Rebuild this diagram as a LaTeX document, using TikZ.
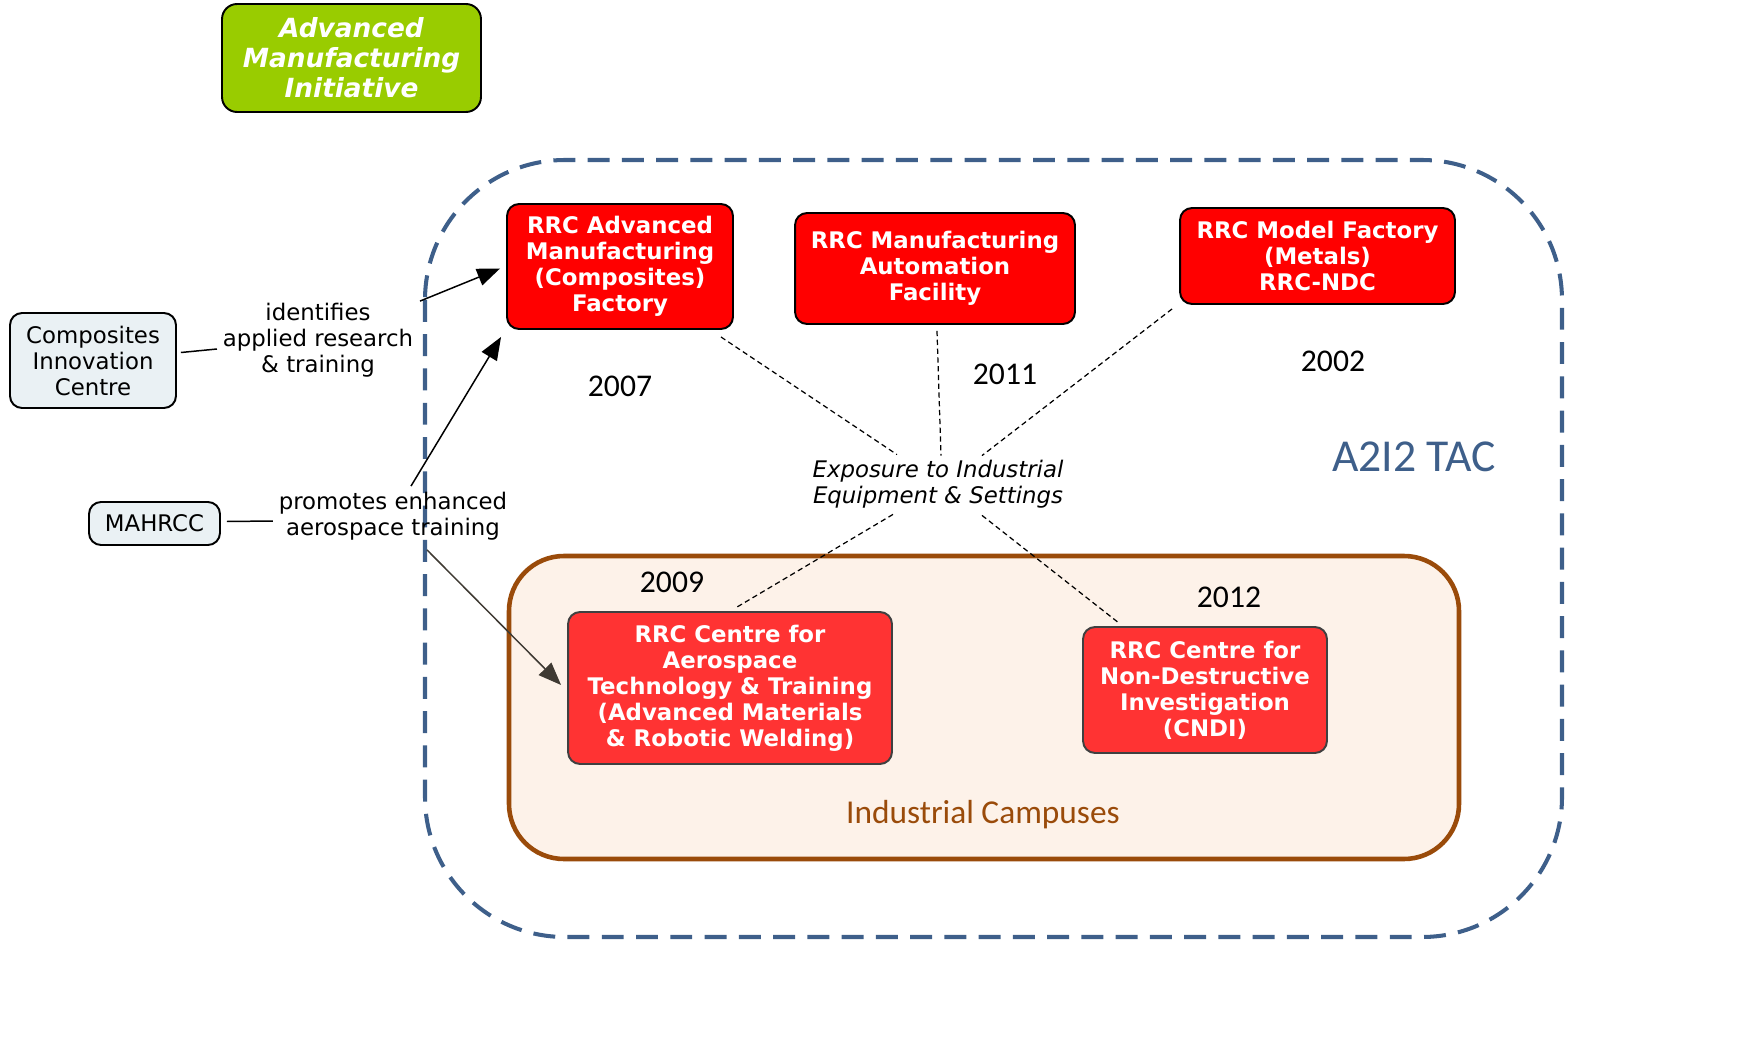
\documentclass[tikz,border=0pt]{standalone}
\usepackage{fontspec}
\setmainfont{DejaVu Sans}
\newfontfamily\calfont{Carlito}
\usetikzlibrary{arrows.meta,calc}
\definecolor{amigreen}{HTML}{99CC00}
\definecolor{tacblue}{HTML}{3E5F8A}
\definecolor{campbrown}{HTML}{9A4B0A}
\definecolor{campfill}{HTML}{FDF2E9}
\definecolor{lightbox}{HTML}{EAF1F4}
\definecolor{rrcred}{HTML}{FF0000}
\definecolor{rrcredb}{HTML}{FF3333}
\definecolor{arrowdark}{HTML}{3F3A33}
\tikzset{
  redbox/.style={draw=black, fill=rrcred, rounded corners=0.24cm, line width=1.1pt,
    text=white, align=center, inner sep=0pt, font=\bfseries\fontsize{13}{14.8}\selectfont},
  redboxb/.style={redbox, fill=rrcredb, draw=black!75},
  greybox/.style={draw=black, fill=lightbox, rounded corners=0.24cm, line width=1.1pt,
    align=center, inner sep=0pt, font=\fontsize{13}{14.8}\selectfont},
  linklabel/.style={align=center, inner sep=2pt, font=\fontsize{13}{14.8}\selectfont},
  year/.style={font=\calfont\fontsize{18}{20}\selectfont, inner sep=0pt},
  conn/.style={line width=0.85pt},
  arr/.style={conn, -{Triangle[length=13pt,width=10pt]}},
  dconn/.style={line width=0.7pt, dash pattern=on 3pt off 2pt}
}
\begin{document}
\begin{tikzpicture}[x=0.02cm,y=-0.02cm]
\useasboundingbox (0,0) rectangle (1756,1051);
% big dashed region
\draw[tacblue, line width=2.3pt, dash pattern=on 12.5pt off 7pt, rounded corners=2.8cm]
  (425,160) rectangle (1562,937);
% industrial campuses region
\draw[campbrown, fill=campfill, line width=2.6pt, rounded corners=1.1cm]
  (509,556) rectangle (1459,859);
\node[text=campbrown, font=\calfont\fontsize{19}{21}\selectfont] (campus) at (983,815) {Industrial Campuses};
\node[text=tacblue, font=\calfont\fontsize{26}{28}\selectfont] (tac) at (1414,457) {A2I2 TAC};

% top green box
\node[draw=black, fill=amigreen, rounded corners=0.3cm, line width=1.1pt, text=white,
  align=center, inner sep=0pt, minimum width=5.18cm, minimum height=2.16cm,
  font=\bfseries\itshape\fontsize{15}{17}\selectfont] (ami) at (351.5,58)
  {Advanced\\Manufacturing\\Initiative};

% RRC boxes
\node[redbox, minimum width=4.52cm, minimum height=2.5cm] (b1) at (620,266.5)
  {RRC Advanced\\Manufacturing\\(Composites)\\Factory};
\node[redbox, minimum width=5.6cm, minimum height=2.22cm] (b2) at (935,268.5)
  {RRC Manufacturing\\Automation\\Facility};
\node[redbox, minimum width=5.5cm, minimum height=1.92cm] (b3) at (1317.5,256)
  {RRC Model Factory\\(Metals)\\RRC-NDC};
\node[redboxb, minimum width=6.48cm, minimum height=3.04cm] (b4) at (730,688)
  {RRC Centre for\\Aerospace\\Technology \& Training\\(Advanced Materials\\\& Robotic Welding)};
\node[redboxb, minimum width=4.88cm, minimum height=2.52cm] (b5) at (1205,690)
  {RRC Centre for\\Non-Destructive\\Investigation\\(CNDI)};

% years
\node[year] (y1) at (620,386) {2007};
\node[year] (y2) at (1005,374) {2011};
\node[year] (y3) at (1333,361) {2002};
\node[year] (y4) at (672,582) {2009};
\node[year] (y5) at (1229,597) {2012};

% exposure label
\node[align=center, inner sep=0pt, font=\itshape\fontsize{13}{14.8}\selectfont] (exp) at (938,484)
  {Exposure to Industrial\\Equipment \& Settings};

% left side boxes
\node[greybox, minimum width=3.32cm, minimum height=1.9cm] (cic) at (93,360.5)
  {Composites\\Innovation\\Centre};
\node[greybox, minimum width=2.62cm, minimum height=0.86cm] (mah) at (154.5,523.5) {MAHRCC};
\node[linklabel] (l1) at (318,340) {identifies\\applied research\\\& training};
\node[linklabel] (l2) at (393,516) {promotes enhanced\\aerospace training};

% connectors
\draw[conn] ($(cic.east)+(4,-8)$) -- ($(l1.west)+(-2,9)$);
\draw[arr] ($(l1.north east)+(3,2)$) -- ($(b1.west)+(-6,2)$);
\draw[conn] ($(mah.east)+(6,-2)$) -- ($(l2.west)+(-2,5)$);
\draw[arr] ($(l2.north)+(18,-2)$) -- ($(b1.south west)+(-5,7)$);
\draw[conn, draw=arrowdark, -{Triangle[length=13pt,width=10pt]}] ($(l2.south)+(34,6)$) -- ($(b4.west)+(-6,-3)$);

\draw[dconn] ($(b1.south east)+(-13,7)$) -- ($(exp.north)+(-41,-5)$);
\draw[dconn] ($(b2.south)+(2,6)$) -- ($(exp.north)+(3,-4)$);
\draw[dconn] ($(b3.south west)+(-7,4)$) -- ($(exp.north)+(44,-4)$);
\draw[dconn] ($(exp.south)+(-45,6)$) -- ($(b4.north)+(7,-4)$);
\draw[dconn] ($(exp.south)+(44,7)$) -- ($(b5.north)+(-86,-3)$);
\end{tikzpicture}
\end{document}
